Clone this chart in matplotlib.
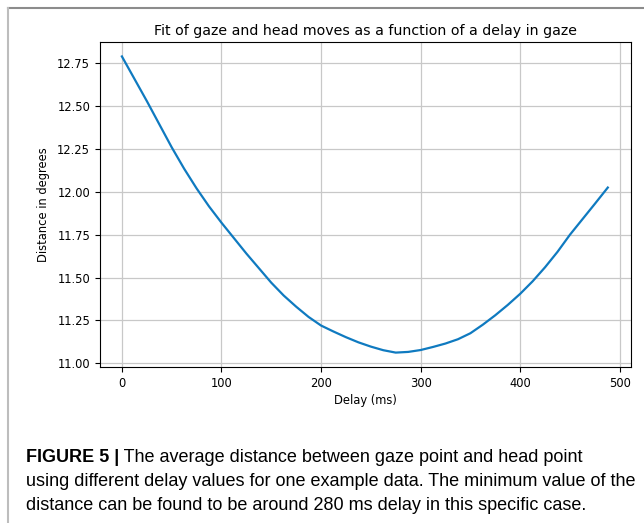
import numpy as np
import matplotlib
matplotlib.use("Agg")
import matplotlib.pyplot as plt
from matplotlib.lines import Line2D

# delay (ms) vs average distance (degrees)
delay = [0, 12.5, 25, 37.5, 50, 62.5, 75, 87.5, 100, 112.5, 125, 137.5,
         150, 162.5, 175, 187.5, 200, 212.5, 225, 237.5, 250, 262.5, 275,
         287.5, 300, 312.5, 325, 337.5, 350, 362.5, 375, 387.5, 400, 412.5,
         425, 437.5, 450, 462.5, 475, 488]
distance = [12.79, 12.66, 12.53, 12.395, 12.26, 12.135, 12.02, 11.915,
            11.82, 11.73, 11.64, 11.555, 11.47, 11.395, 11.33, 11.27,
            11.22, 11.185, 11.152, 11.122, 11.097, 11.076, 11.062,
            11.066, 11.077, 11.095, 11.115, 11.14, 11.175, 11.225, 11.28,
            11.34, 11.405, 11.478, 11.56, 11.65, 11.75, 11.84, 11.93, 12.025]

xticks = [0, 100, 200, 300, 400, 500]
yticks = [11.00, 11.25, 11.50, 11.75, 12.00, 12.25, 12.50, 12.75]

title = "Fit of gaze and head moves as a function of a delay in gaze"
caption_bold = "FIGURE 5 |"
caption_lines = [" The average distance between gaze point and head point",
                 "using different delay values for one example data. The minimum value of the",
                 "distance can be found to be around 280 ms delay in this specific case."]

fig = plt.figure(figsize=(6.44, 5.23), dpi=100)
W, H = 644, 523

# frame lines (top and left)
fig.add_artist(Line2D([8 / W, 1], [1 - 8 / H, 1 - 8 / H], color="#8c8c8c", lw=1.5))
fig.add_artist(Line2D([8 / W, 8 / W], [0, 1 - 8 / H], color="#bdbdbd", lw=1.5))

ax = fig.add_axes([100 / W, 1 - 367 / H, 530.7 / W, 325.3 / H])
ax.plot(delay, distance, color="#0f7ac0", lw=1.6)
ax.set_xlim(-22, 511)
ax.set_ylim(10.978, 12.876)
ax.set_xticks(xticks)
ax.set_yticks(yticks)
ax.set_yticklabels(["%.2f" % v for v in yticks])
ax.grid(True, color="#c8c8c8", lw=0.9)
ax.tick_params(labelsize=8.3)
ax.set_title(title, fontsize=10.2, pad=5)
ax.set_xlabel("Delay (ms)", fontsize=8.3, labelpad=3)
ax.set_ylabel("Distance in degrees", fontsize=8.3, labelpad=5)

# caption
cap_font = ["Liberation Sans", "DejaVu Sans"]
cap_size = 13.0
x0 = 26 / W
ys = [457, 481, 505]
tb = fig.text(x0, 1 - ys[0] / H, caption_bold, fontsize=cap_size, fontweight="bold",
              family=cap_font, va="center")
fig.canvas.draw()
bb = tb.get_window_extent(fig.canvas.get_renderer())
fig.text(bb.x1 / W, 1 - ys[0] / H, caption_lines[0], fontsize=cap_size,
         family=cap_font, va="center")
for y, line in zip(ys[1:], caption_lines[1:]):
    fig.text(x0, 1 - y / H, line, fontsize=cap_size, family=cap_font, va="center")

fig.savefig("out.png", dpi=100)
